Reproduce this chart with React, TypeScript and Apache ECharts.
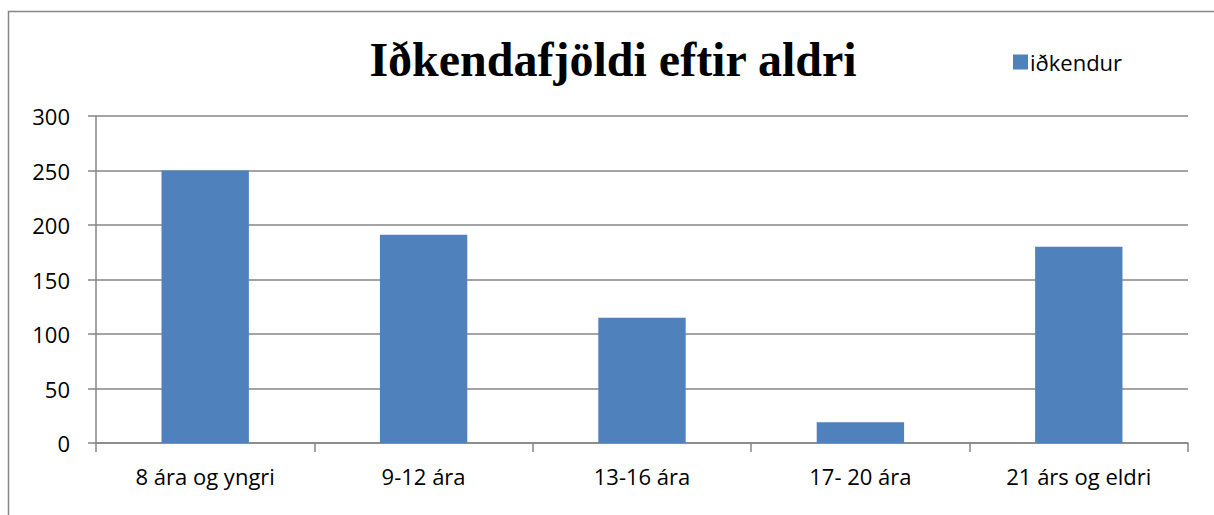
import React, { useEffect, useRef } from "react";
import * as echarts from "echarts";

const categories = ["8 ára og yngri", "9-12 ára", "13-16 ára", "17- 20 ára", "21 árs og eldri"];
const values = [250, 191, 115, 19, 180];
const seriesName = "iðkendur";
const titleText = "Iðkendafjöldi eftir aldri";

export default function App() {
  const ref = useRef<HTMLDivElement>(null);
  useEffect(() => {
    const chart = echarts.init(ref.current!, null, { renderer: "svg" });
    const gray = "#868686";
    chart.setOption({
      animation: false,
      backgroundColor: "#ffffff",
      title: {
        text: titleText,
        left: 608,
        textAlign: "center",
        top: 30,
        textStyle: { fontFamily: "Liberation Serif", fontWeight: "bold", fontSize: 48, color: "#000" },
      },
      legend: {
        left: 1008,
        top: 46,
        itemWidth: 15,
        itemHeight: 15,
        itemGap: 6,
        data: [{ name: seriesName, icon: "rect" }],
        textStyle: { fontFamily: "Open Sans", fontSize: 22, color: "#000", padding: [0, 0, 0, -3] },
      },
      graphic: [
        {
          type: "rect",
          shape: { x: 8.5, y: 11.5, width: 1300, height: 600 },
          style: { fill: "none", stroke: gray, lineWidth: 1.5 },
          silent: true,
        },
      ],
      grid: { left: 96, top: 116, right: 26, bottom: 72 },
      xAxis: {
        type: "category",
        data: categories,
        axisLine: { lineStyle: { color: gray, width: 1.5 } },
        axisTick: { show: true, length: 9, alignWithLabel: false, lineStyle: { color: gray, width: 1.5 } },
        axisLabel: { color: "#000", fontFamily: "Open Sans", fontSize: 22, margin: 22 },
      },
      yAxis: {
        type: "value",
        min: 0,
        max: 300,
        interval: 50,
        axisLine: { show: true, lineStyle: { color: gray, width: 1.5 } },
        axisTick: { show: true, length: 8, lineStyle: { color: gray, width: 1.5 } },
        splitLine: { lineStyle: { color: gray, width: 1.5 } },
        axisLabel: { color: "#000", fontFamily: "Open Sans", fontSize: 22, margin: 26 },
      },
      series: [
        {
          name: seriesName,
          type: "bar",
          data: values,
          barWidth: "40%",
          itemStyle: { color: "#4F81BD" },
        },
      ],
    });
    return () => chart.dispose();
  }, []);
  return <div ref={ref} style={{ position: "fixed", left: 0, top: 0, width: 1214, height: 515 }} />;
}
